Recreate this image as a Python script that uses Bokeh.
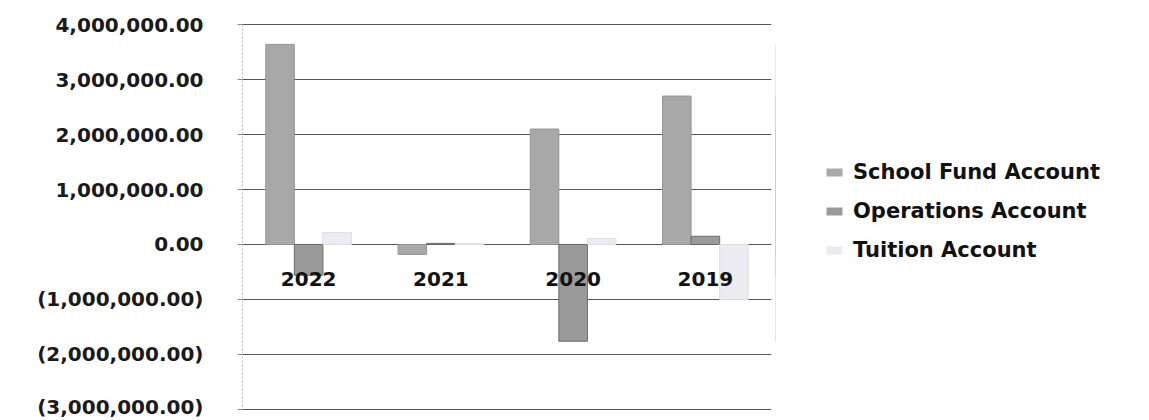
from bokeh.plotting import figure
from bokeh.layouts import row
from bokeh.models import ColumnDataSource, Range1d, NumeralTickFormatter, Legend, LegendItem, FactorRange
from bokeh.transform import dodge
from bokeh.core.properties import value
from bokeh.embed import file_html
from bokeh.resources import INLINE

years = ["2022", "2021", "2020", "2019"]
school_fund = [3640000, -180000, 2100000, 2700000]
operations = [-560000, 20000, -1760000, 150000]
tuition = [220000, 15000, 110000, -1000000]
y_ticks = [-3000000, -2000000, -1000000, 0, 1000000, 2000000, 3000000, 4000000]
series_names = ["School Fund Account", "Operations Account", "Tuition Account"]
series_fill = ["#a8a8a8", "#9a9a9a", "#ebebf1"]
series_line = ["#959595", "#6a6a6a", "#dedee6"]

src = ColumnDataSource(dict(years=years, sf=school_fund, op=operations, tu=tuition,
                            zero=[0] * len(years)))

FONT = "DejaVu Sans"

p = figure(x_range=FactorRange(*years), y_range=Range1d(-3020000, 4020000),
           width=775, height=418, output_backend="svg", toolbar_location=None,
           min_border_left=242, min_border_top=23, min_border_bottom=8,
           min_border_right=4, background_fill_color="white",
           border_fill_color="white")
p.outline_line_color = None

w = 0.216
for col, off, fc, lc in zip(["sf", "op", "tu"], [-w, 0, w], series_fill, series_line):
    p.vbar(x=dodge("years", off, range=p.x_range), top=col, bottom=0, width=w, source=src,
           fill_color=fc, line_color=lc, line_width=1)

p.text(x="years", y="zero", text="years", source=src, y_offset=28,
       text_align="center", text_baseline="top", text_font=value(FONT),
       text_font_style="bold", text_font_size="20px", text_color="#111111")

p.xaxis.visible = False
p.xgrid.visible = False
p.ygrid.grid_line_color = "#555555"
p.ygrid.grid_line_width = 1

p.yaxis.ticker = y_ticks
p.yaxis.formatter = NumeralTickFormatter(format="(0,0.00)")
p.yaxis.major_label_text_font = FONT
p.yaxis.major_label_text_font_style = "bold"
p.yaxis.major_label_text_font_size = "20px"
p.yaxis.major_label_text_color = "#1a1a1a"
p.yaxis.major_label_standoff = 34
p.yaxis.major_tick_out = 5
p.yaxis.major_tick_in = 0
p.yaxis.major_tick_line_color = "#888888"
p.yaxis.minor_tick_line_color = None
p.yaxis.axis_line_color = "#bbbbbb"
p.yaxis.axis_line_dash = "2 2"

# legend panel (its bars sit outside its visible range; only the legend shows)
p2 = figure(width=358, height=418, output_backend="svg", toolbar_location=None,
            x_range=Range1d(0.5, 1.5), y_range=Range1d(-3020000, 4020000),
            min_border_left=0, min_border_right=0, min_border_top=0, min_border_bottom=0,
            border_fill_color="white")
p2.outline_line_color = None
p2.axis.visible = False
p2.grid.visible = False
items = []
for name, col, fc in zip(series_names, ["sf", "op", "tu"], series_fill):
    r = p2.vbar(x="zero", top=col, bottom=0, width=0.1, source=src,
                fill_color=fc, line_color=None)
    items.append(LegendItem(label=name, renderers=[r], index=0))

legend = Legend(items=items, location=(49, 148))
legend.border_line_color = None
legend.background_fill_alpha = 0
legend.label_text_font = FONT
legend.label_text_font_style = "bold"
legend.label_text_font_size = "21px"
legend.label_text_color = "#111111"
legend.glyph_width = 20
legend.glyph_height = 10
legend.spacing = 15
legend.label_standoff = 9
legend.margin = 0
legend.padding = 0
p2.add_layout(legend)

open("out.html", "w").write(file_html(row(p, p2), INLINE))
